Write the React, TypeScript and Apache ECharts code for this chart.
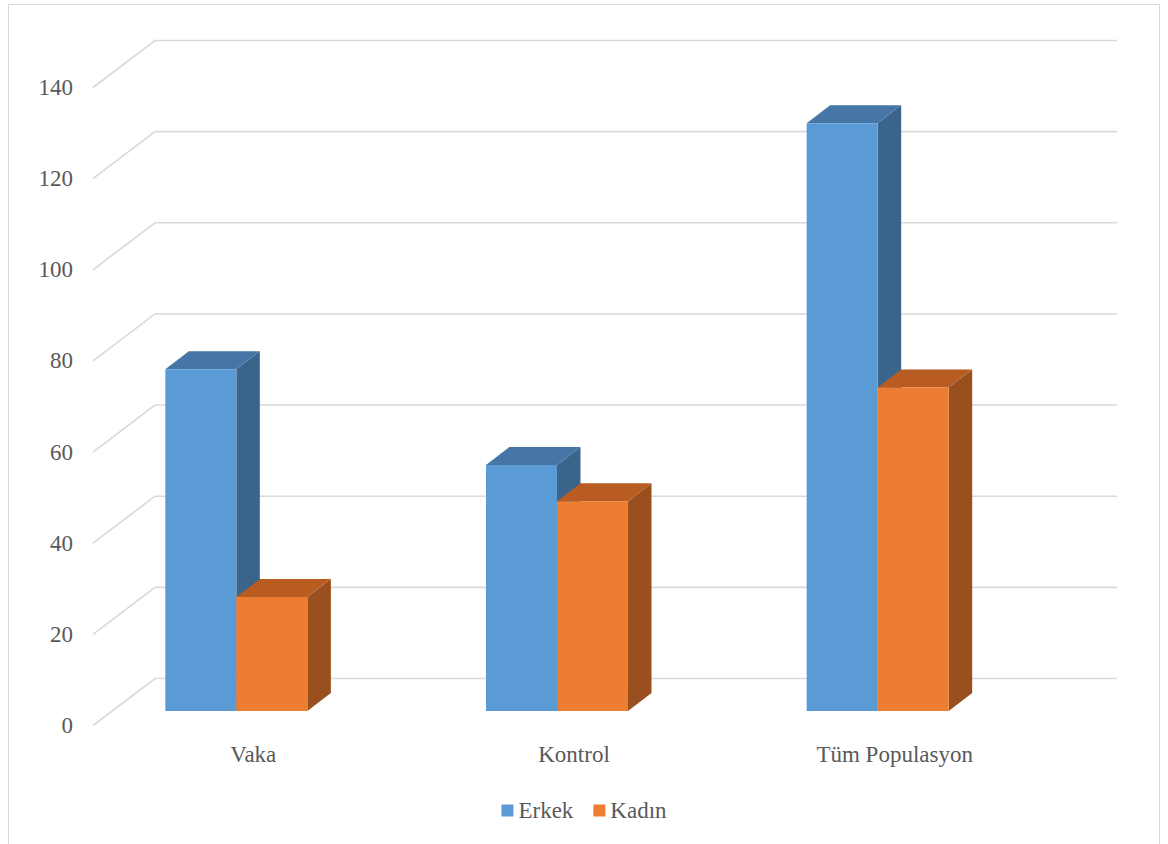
import React, { useEffect, useRef } from "react";
import * as echarts from "echarts";

// Chart data
const categories = ["Vaka", "Kontrol", "Tüm Populasyon"];
const seriesNames = ["Erkek", "Kadın"];
const erkekValues = [75, 54, 129];
const kadinValues = [25, 46, 71];
const yTicks = [0, 20, 40, 60, 80, 100, 120, 140];

// Face colours for the pseudo-3D columns: front, top, side
const erkekFaces = { front: "#5B9BD5", top: "#4676A6", side: "#3A6489" };
const kadinFaces = { front: "#ED7D31", top: "#B85C22", side: "#9A4F1E" };

// Projection of the depth axis (pixels)
const WALL_DX = 62;
const WALL_DY = 47;
const BAR_DX = 23.5;
const BAR_DY = 18;
const BAR_LIFT = 14.5;
const BAR_SHIFT = 17;
const BAR_FRAC = 0.2215;

const FONT = "Liberation Serif";
const TEXT = "#595959";
const GRID_LINE = "#D9D9D9";

function barRenderer(faces: { front: string; top: string; side: string }, leftOfCenter: boolean) {
  return (params: any, api: any) => {
    const idx = api.value(0);
    const val = api.value(1);
    const top = api.coord([idx, val]);
    const base = api.coord([idx, 0]);
    const band = api.size([1, 0])[0];
    const w = band * BAR_FRAC;
    const x0 = top[0] - BAR_SHIFT + (leftOfCenter ? -w : 0);
    const yT = top[1] - BAR_LIFT;
    const yB = base[1] - BAR_LIFT;
    return {
      type: "group",
      children: [
        {
          type: "polygon",
          shape: { points: [[x0 + w, yT], [x0 + w + BAR_DX, yT - BAR_DY], [x0 + w + BAR_DX, yB - BAR_DY], [x0 + w, yB]] },
          style: { fill: faces.side },
        },
        {
          type: "polygon",
          shape: { points: [[x0, yT], [x0 + w, yT], [x0 + w + BAR_DX, yT - BAR_DY], [x0 + BAR_DX, yT - BAR_DY]] },
          style: { fill: faces.top },
        },
        {
          type: "rect",
          shape: { x: x0, y: yT, width: w, height: yB - yT },
          style: { fill: faces.front },
        },
      ],
    };
  };
}

export default function App() {
  const ref = useRef<HTMLDivElement>(null);

  useEffect(() => {
    if (!ref.current) return;
    const chart = echarts.init(ref.current, null, { renderer: "svg" });

    chart.setOption({
      animation: false,
      backgroundColor: "#ffffff",
      color: [erkekFaces.front, kadinFaces.front],
      textStyle: { fontFamily: FONT },
      graphic: [
        {
          type: "rect",
          z: -10,
          shape: { x: 8.5, y: 4.5, width: 1151, height: 860 },
          style: { fill: "none", stroke: GRID_LINE, lineWidth: 1 },
          silent: true,
        },
      ],
      grid: { left: 93, right: 113, top: 87.5, bottom: 118.5, containLabel: false },
      legend: {
        data: seriesNames,
        left: "center",
        top: 794,
        icon: "rect",
        itemWidth: 12,
        itemHeight: 12,
        itemGap: 20,
        textStyle: { color: TEXT, fontSize: 23, fontFamily: FONT },
      },
      xAxis: {
        type: "category",
        data: categories,
        axisLine: { show: false },
        axisTick: { show: false },
        splitLine: { show: false },
        axisLabel: { color: TEXT, fontSize: 23, fontFamily: FONT, margin: 17 },
      },
      yAxis: {
        type: "value",
        min: 0,
        max: 140,
        interval: 20,
        axisLine: { show: false },
        axisTick: { show: false },
        splitLine: { show: false },
        axisLabel: { color: TEXT, fontSize: 23, fontFamily: FONT, margin: 20 },
      },
      series: [
        {
          name: "walls",
          type: "custom",
          silent: true,
          z: 1,
          data: yTicks.map((v) => [0, v]),
          renderItem: (params: any, api: any) => {
            const cs = params.coordSys;
            const y = api.coord([0, api.value(1)])[1];
            const xl = cs.x;
            const xr = cs.x + cs.width + WALL_DX;
            return {
              type: "polyline",
              shape: { points: [[xl, y], [xl + WALL_DX, y - WALL_DY], [xr, y - WALL_DY]] },
              style: { stroke: GRID_LINE, lineWidth: 1.6, fill: "none" },
            };
          },
        },
        {
          name: seriesNames[0],
          type: "custom",
          z: 2,
          itemStyle: { color: erkekFaces.front },
          data: erkekValues.map((v, i) => [i, v]),
          renderItem: barRenderer(erkekFaces, true),
        },
        {
          name: seriesNames[1],
          type: "custom",
          z: 3,
          itemStyle: { color: kadinFaces.front },
          data: kadinValues.map((v, i) => [i, v]),
          renderItem: barRenderer(kadinFaces, false),
        },
      ],
    });

    return () => chart.dispose();
  }, []);

  return (
    <div
      ref={ref}
      style={{ position: "absolute", left: 0, top: 0, width: 1168, height: 844 }}
    />
  );
}
